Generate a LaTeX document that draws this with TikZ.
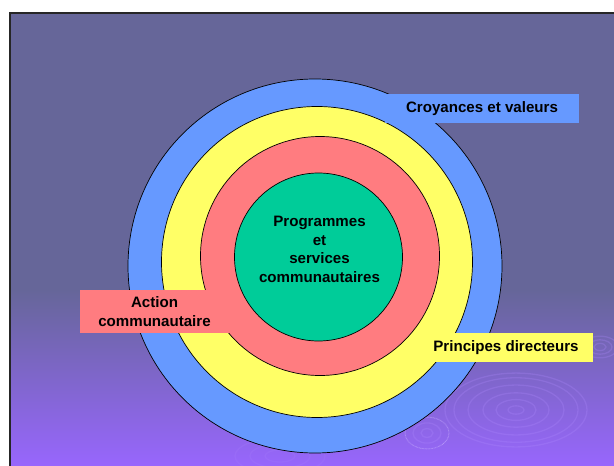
\documentclass[tikz,border=0pt]{standalone}
\usepackage{fontspec}
\setmainfont{Liberation Sans}
\usepackage{tikz}
\usepackage{xcolor}

\definecolor{slideTop}{HTML}{666699}
\definecolor{slideBottom}{HTML}{9966FF}
\definecolor{ringBlue}{HTML}{6699FF}
\definecolor{ringYellow}{HTML}{FFFF66}
\definecolor{ringRed}{HTML}{FF7C80}
\definecolor{ringGreen}{HTML}{00CC99}
\definecolor{rippleLine}{HTML}{B08AFF}

\begin{document}
\begin{tikzpicture}[x=1pt, y=-1pt,
  ring/.style={circle, draw=black, line width=0.7pt, inner sep=0pt},
  tag/.style={rectangle, inner sep=0pt, align=center,
    font=\bfseries\fontsize{15.1}{18.5}\selectfont},
  ripple/.style={draw=rippleLine, line width=1.3pt, opacity=0.25}
]

  % Slide background
  \useasboundingbox (0,0) rectangle (614,466);
  \fill[white] (0,0) rectangle (614,466);
  \fill[slideTop] (10,13) rectangle (620,290);
  \shade[top color=slideTop, bottom color=slideBottom] (10,289.5) rectangle (620,470);
  \draw[line width=1.6pt, black!85] (10,470) -- (10,13) -- (620,13);

  % Ripples
  \foreach \r in {8,20,33,48,62,71}
    \draw[ripple] (516,410) ellipse ({\r} and {0.52*\r});
  \foreach \r in {6,14,22}
    \draw[ripple] (427,433) ellipse ({\r} and {0.72*\r});
  \draw[white, opacity=0.4, densely dotted, line width=0.5pt] (427,433) ellipse (22 and 16);
  \foreach \r in {6,12,18}
    \draw[ripple] (600,347) ellipse ({\r} and {0.6*\r});
  \foreach \r in {15,30,45}
    \draw[ripple, opacity=0.15] (280,456) ellipse ({\r} and {0.4*\r});

  % Define nodes
  \node[ring, fill=ringBlue,   minimum size=374pt] (croyancesRing) at (315,266) {};
  \node[ring, fill=ringYellow, minimum size=311pt] (principesRing) at (317,262) {};
  \node[ring, fill=ringRed,    minimum size=239pt] (actionRing)    at (320,256) {};
  \node[ring, fill=ringGreen,  minimum size=168pt] (programmesRing) at (318.5,257) {};

  % Labels
  \node[tag] (programmes) at (319.5,249.5) {Programmes\\et\\services\\communautaires};
  \node[tag, fill=ringBlue, minimum width=194pt, minimum height=29pt]
    (croyances) at (482,108.5) {Croyances et valeurs};
  \node[tag, fill=ringRed, minimum width=149pt, minimum height=43.3pt]
    (action) at (154.5,311.7) {Action\\communautaire};
  \node[tag, fill=ringYellow, minimum width=174pt, minimum height=28.4pt]
    (principes) at (506,347.5) {Principes directeurs};

\end{tikzpicture}
\end{document}
